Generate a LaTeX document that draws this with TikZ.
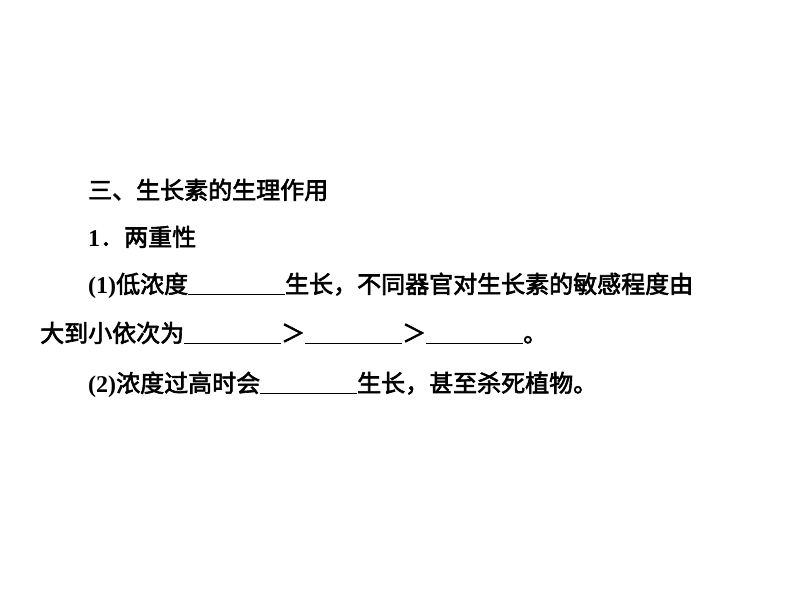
\documentclass[tikz,border=0pt]{standalone}
\usepackage{fontspec}
\setmainfont{Liberation Serif}
\newfontfamily\cjk[AutoFakeBold=2.5]{Noto Sans CJK SC}
\newcommand{\zh}[1]{{\cjk\bfseries #1}}
\newcommand{\blankline}{\underline{\hspace{97pt}}}
\begin{document}
\begin{tikzpicture}[x=1pt,y=-1pt,
  txt/.style={anchor=base west,inner sep=0pt,font=\fontsize{24}{28}\selectfont\bfseries}]
\useasboundingbox[fill=white] (0,0) rectangle (794,596);
\node[txt] (l1) at (88,199) {\zh{三、生长素的生理作用}};
\node[txt] (l2) at (88,246) {1\zh{．两重性}};
\node[txt] (l3) at (88,293) {(1)\zh{低浓度}\blankline\zh{生长，不同器官对生长素的敏感程度由}};
\node[txt] (l4) at (40,342) {\zh{大到小依次为}\blankline\zh{＞}\blankline\zh{＞}\blankline\zh{。}};
\node[txt] (l5) at (88,392) {(2)\zh{浓度过高时会}\blankline\zh{生长，甚至杀死植物。}};
\end{tikzpicture}
\end{document}
